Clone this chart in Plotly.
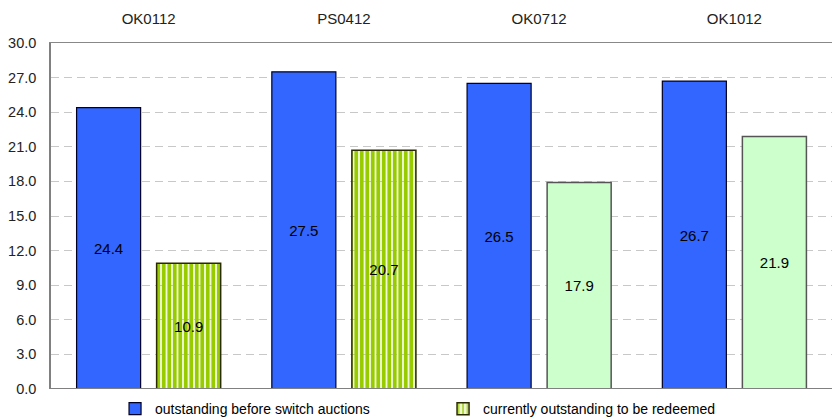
import plotly.graph_objects as go

# Bond lines and outstanding amounts
categories = ["OK0112", "PS0412", "OK0712", "OK1012"]
before_switch = [24.4, 27.5, 26.5, 26.7]
to_be_redeemed = [10.9, 20.7, 17.9, 21.9]
y_ticks = [0, 3, 6, 9, 12, 15, 18, 21, 24, 27, 30]

series_names = ["outstanding before switch auctions",
                "currently outstanding to be redeemed"]

FONT = "Liberation Sans, Arial, sans-serif"

fig = go.Figure()

fig.add_trace(go.Bar(
    name=series_names[0],
    x=categories,
    y=before_switch,
    marker=dict(color="#3366FF", line=dict(color="#000022", width=1.2)),
    text=[f"{v:.1f}" for v in before_switch],
    textposition="inside",
    insidetextanchor="middle",
    textfont=dict(family=FONT, size=15, color="#000000"),
))

# first two redeemed bars are striped yellow-green, the rest plain pale green
fig.add_trace(go.Bar(
    name=series_names[1],
    x=categories,
    y=to_be_redeemed,
    marker=dict(
        color=["#99CC00", "#99CC00", "#CCFFCC", "#CCFFCC"],
        line=dict(color=["#2a2a00", "#2a2a00", "#555555", "#555555"], width=1.5),
        pattern=dict(shape=["|", "|", "", ""], fillmode="replace",
                     bgcolor=["#99CC00", "#99CC00", "#CCFFCC", "#CCFFCC"],
                     fgcolor=["#EEF7D0", "#EEF7D0", "#CCFFCC", "#CCFFCC"],
                     size=5.5, solidity=0.72),
    ),
    text=[f"{v:.1f}" for v in to_be_redeemed],
    textposition="inside",
    insidetextanchor="middle",
    textfont=dict(family=FONT, size=15, color="#000000"),
))

# baseline along zero
fig.add_shape(type="line", xref="paper", yref="y", x0=0, x1=1, y0=0, y1=0,
              line=dict(color="#808080", width=2), layer="above")

fig.update_layout(
    width=832, height=418,
    margin=dict(l=51, r=0, t=43, b=29, autoexpand=False),
    paper_bgcolor="white", plot_bgcolor="white",
    barmode="group", bargap=0.18, bargroupgap=0.2,
    font=dict(family=FONT, size=14, color="#222222"),
    showlegend=True,
    legend=dict(orientation="h", x=0.082, xanchor="left", y=-0.058, yanchor="middle",
                font=dict(family=FONT, size=14, color="#000000"),
                entrywidth=283, entrywidthmode="pixels",
                bgcolor="rgba(0,0,0,0)", itemwidth=30),
    xaxis=dict(side="top", showline=True, linecolor="#888888", linewidth=1,
               showgrid=False, ticks="", ticklabelstandoff=12,
               tickfont=dict(family=FONT, size=15, color="#222222")),
    yaxis=dict(range=[0, 30], tickvals=y_ticks, tickformat=".1f",
               showline=True, linecolor="#808080", linewidth=1.5,
               showgrid=True, gridcolor="#C8C8C8", gridwidth=1, griddash="8px,5px",
               zeroline=False, ticks="", ticklabelstandoff=10,
               tickfont=dict(family=FONT, size=14.5, color="#222222")),
)

fig.write_html("out.html")
